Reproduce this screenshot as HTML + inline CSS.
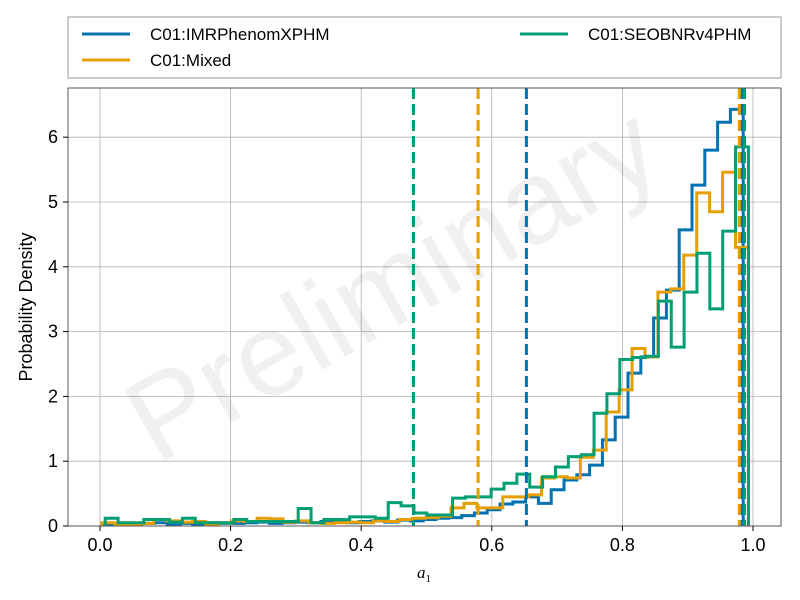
<!DOCTYPE html>
<html><head><meta charset="utf-8"><style>
body{margin:0;background:#fff;}
svg{display:block;font-family:"Liberation Sans",sans-serif;}
</style></head><body>
<svg id="chart" width="800" height="600" viewBox="0 0 800 600">
<rect x="0" y="0" width="800" height="600" fill="#fff"/>
<g id="grid"></g>
<text x="412" y="318" transform="rotate(-30 412 318)" text-anchor="middle" font-size="118" fill="#000" fill-opacity="0.06">Preliminary</text>
<g id="marks"></g>
<rect x="68" y="88" width="713" height="438" fill="none" stroke="#555" stroke-width="1"/>
<g id="axes"></g>
<text x="424" y="578" text-anchor="middle" font-family="'Liberation Serif',serif" font-style="italic" font-size="17">a<tspan font-size="11" dy="4" font-style="normal">1</tspan></text>
<text transform="translate(32 307) rotate(-90)" text-anchor="middle" font-size="18">Probability Density</text>
<g>
<rect x="68" y="17" width="713" height="61" fill="#fff" stroke="#999" stroke-width="1"/>
<g><line x1="82" y1="34" x2="130" y2="34" stroke="#0072b2" stroke-width="3"/><text x="150" y="40" font-size="17">C01:IMRPhenomXPHM</text></g>
<g><line x1="82" y1="60" x2="130" y2="60" stroke="#e69f00" stroke-width="3"/><text x="150" y="66" font-size="17">C01:Mixed</text></g>
<g><line x1="520" y1="34" x2="568" y2="34" stroke="#009e73" stroke-width="3"/><text x="588" y="40" font-size="17">C01:SEOBNRv4PHM</text></g>
</g>
</svg>
<script>
const xTicks=[0,0.2,0.4,0.6,0.8,1.0];
const xTickLabels=["0.0","0.2","0.4","0.6","0.8","1.0"];
const yTicks=[0,1,2,3,4,5,6];
const seriesNames=["imrphenomxphm","mixed","seobnrv4phm"];
const seriesColors=["#0072b2","#e69f00","#009e73"];
const binStart=[0.005,0.003,0.008];
const binWidth=[0.0196,0.0198,0.0197];
const blueValues=[0.02,0.03,0.02,0.04,0.05,0.03,0.04,0.03,0.05,0.04,0.04,0.05,0.06,0.04,0.05,0.06,0.05,0.07,0.06,0.05,0.07,0.08,0.06,0.09,0.08,0.1,0.12,0.13,0.16,0.2,0.25,0.34,0.37,0.45,0.35,0.56,0.71,0.79,0.94,1.33,1.68,2.36,2.61,3.21,3.64,4.57,5.26,5.80,6.23,6.43];
const orangeValues=[0.05,0.03,0.03,0.04,0.1,0.08,0.06,0.07,0.03,0.05,0.08,0.07,0.12,0.11,0.06,0.08,0.05,0.04,0.05,0.06,0.05,0.08,0.07,0.1,0.12,0.13,0.15,0.28,0.35,0.28,0.28,0.45,0.45,0.48,0.74,0.76,0.74,1.06,1.17,1.76,2.1,2.74,2.61,3.61,3.66,4.18,5.14,4.85,5.46,4.3];
const greenValues=[0.12,0.05,0.05,0.1,0.1,0.06,0.12,0.05,0.05,0.05,0.1,0.07,0.07,0.07,0.07,0.27,0.05,0.1,0.1,0.14,0.14,0.12,0.36,0.31,0.2,0.17,0.17,0.43,0.45,0.45,0.57,0.66,0.8,0.6,0.76,0.91,1.07,1.1,1.74,2.04,2.57,2.6,2.62,3.47,2.76,3.61,4.21,3.35,4.55,5.85];
const lowerBounds=[0.653,0.579,0.480];
const upperBounds=[0.983,0.979,0.987];
const seriesValues=[blueValues,orangeValues,greenValues];
const NS="http://www.w3.org/2000/svg";
const X0=68,X1=781,Y0=526,Y1=88;
function xs(v){return 100+653*v;}
function ys(v){return 526-64.8*v;}
function mk(tag,attrs,parent){const e=document.createElementNS(NS,tag);for(const k in attrs)e.setAttribute(k,attrs[k]);parent.appendChild(e);return e;}
const grid=document.getElementById('grid'),axes=document.getElementById('axes'),marks=document.getElementById('marks');
xTicks.forEach((t,i)=>{
 const g=mk('line',{x1:xs(t),x2:xs(t),y1:Y1,y2:Y0,stroke:'#b0b0b0','stroke-width':0.8},grid);
 
 
 const tk=mk('line',{x1:xs(t),x2:xs(t),y1:Y0,y2:Y0+5,stroke:'#000','stroke-width':1},axes);
 
 
 const tx=mk('text',{x:xs(t),y:Y0+25,'text-anchor':'middle','font-size':18},axes);
 tx.textContent=xTickLabels[i];
 
 
});
yTicks.forEach(t=>{
 const g=mk('line',{x1:X0,x2:X1,y1:ys(t),y2:ys(t),stroke:'#b0b0b0','stroke-width':0.8},grid);
 
 
 const tk=mk('line',{x1:X0-5,x2:X0,y1:ys(t),y2:ys(t),stroke:'#000','stroke-width':1},axes);
 
 
 const tx=mk('text',{x:X0-10,y:ys(t)+6,'text-anchor':'end','font-size':18},axes);
 tx.textContent=String(t);
 
 
});
seriesValues.forEach((vals,s)=>{
 let d='M'+xs(binStart[s])+','+ys(0);
 vals.forEach((v,k)=>{const a=xs(binStart[s]+k*binWidth[s]),b=xs(binStart[s]+(k+1)*binWidth[s]);d+=' L'+a+','+ys(v)+' L'+b+','+ys(v);});
 d+=' L'+xs(binStart[s]+vals.length*binWidth[s])+','+ys(0);
 const p=mk('path',{d:d,fill:'none',stroke:seriesColors[s],'stroke-width':3,'stroke-linejoin':'miter'},marks);
 
 
});
seriesValues.forEach((vals,s)=>{
 [lowerBounds[s],upperBounds[s]].forEach(b=>{
  const l=mk('line',{x1:xs(b),x2:xs(b),y1:Y1,y2:Y0,stroke:seriesColors[s],'stroke-width':3,'stroke-dasharray':'11 5'},marks);
  
  
 });
});
</script>
</body></html>
